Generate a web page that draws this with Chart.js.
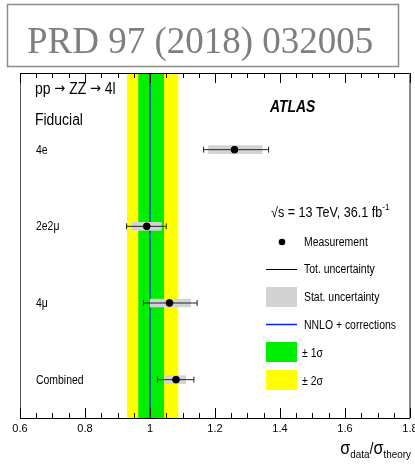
<!DOCTYPE html>
<html>
<head>
<meta charset="utf-8">
<script src="https://cdn.jsdelivr.net/npm/chart.js@4.4.1/dist/chart.umd.min.js"></script>
<style>
  html, body { margin: 0; padding: 0; background: #fff; overflow: hidden; }
  #wrap { position: relative; width: 430px; height: 464px; }
</style>
</head>
<body>
<div id="wrap"><canvas id="ratioChart"></canvas></div>
<script>
// fiducial cross-section ratios, data / theory
var channels = ['4e', '2e2\u03bc', '4\u03bc', 'Combined'];
var channelY = [3.5, 2.5, 1.5, 0.5];
var ratio = [1.26, 0.99, 1.06, 1.08];
var statLo = [1.18, 0.945, 1.0, 1.045];
var statHi = [1.345, 1.035, 1.125, 1.11];
var totLo = [1.165, 0.928, 0.98, 1.023];
var totHi = [1.365, 1.05, 1.145, 1.135];
// theory uncertainty bands around 1
var band1 = [0.964, 1.043];
var band2 = [0.929, 1.087];

var SANS = '"Liberation Sans", Arial, sans-serif';

function narrowText(ctx, s, x, y, font, sx) {
  ctx.save();
  ctx.translate(x, y);
  ctx.scale(sx || 0.87, 1);
  ctx.font = font;
  ctx.fillText(s, 0, 0);
  ctx.restore();
}

// draws a run of [text, font, dy] pieces, returns end x
function textRun(ctx, parts, x, y, sx) {
  parts.forEach(function(p) {
    narrowText(ctx, p[0], x, y + (p[2] || 0), p[1], sx);
    ctx.font = p[1];
    x += ctx.measureText(p[0]).width * sx;
  });
  return x;
}

function runWidth(ctx, parts, sx) {
  var w = 0;
  parts.forEach(function(p) { ctx.font = p[1]; w += ctx.measureText(p[0]).width * sx; });
  return w;
}

var decor = {
  id: 'decor',
  beforeDatasetsDraw: function(chart) {
    var ctx = chart.ctx, a = chart.chartArea, xs = chart.scales.x;
    ctx.save();
    ctx.fillStyle = '#ffff00';
    ctx.fillRect(xs.getPixelForValue(band2[0]), a.top, xs.getPixelForValue(band2[1]) - xs.getPixelForValue(band2[0]), a.bottom - a.top);
    ctx.fillStyle = '#00ee00';
    ctx.fillRect(xs.getPixelForValue(band1[0]), a.top, xs.getPixelForValue(band1[1]) - xs.getPixelForValue(band1[0]), a.bottom - a.top);
    ctx.restore();
  },
  afterDraw: function(chart) {
    var ctx = chart.ctx, a = chart.chartArea, xs = chart.scales.x, ys = chart.scales.y;
    ctx.save();

    // header box
    ctx.strokeStyle = '#8c8c8c';
    ctx.lineWidth = 1.5;
    ctx.strokeRect(7.5, 4.5, 391, 62);
    ctx.fillStyle = '#7f7f7f';
    ctx.font = '37px "Liberation Serif", "Times New Roman", serif';
    ctx.textBaseline = 'alphabetic';
    ctx.fillText('PRD 97 (2018) 032005', 27, 53);

    // frame
    ctx.lineWidth = 1;
    ctx.strokeStyle = '#000';
    ctx.beginPath();
    ctx.moveTo(a.left, a.bottom + 0.5); ctx.lineTo(a.right, a.bottom + 0.5);
    ctx.moveTo(a.left, a.top + 0.5); ctx.lineTo(a.right, a.top + 0.5);
    ctx.stroke();
    ctx.strokeStyle = '#555';
    ctx.beginPath();
    ctx.moveTo(a.left + 0.5, a.top); ctx.lineTo(a.left + 0.5, a.bottom);
    ctx.stroke();
    ctx.strokeStyle = '#8a8a8a';
    ctx.lineWidth = 2;
    ctx.beginPath();
    ctx.moveTo(a.right, a.top); ctx.lineTo(a.right, a.bottom);
    ctx.stroke();

    // inward ticks top and bottom
    ctx.strokeStyle = '#000';
    ctx.lineWidth = 1;
    ctx.beginPath();
    for (var k = 0; k <= 24; k++) {
      var v = 0.6 + k * 0.05;
      var px = Math.round(xs.getPixelForValue(v)) + 0.5;
      var len = (k % 4 === 0) ? 10 : 5;
      ctx.moveTo(px, a.bottom); ctx.lineTo(px, a.bottom - len);
      ctx.moveTo(px, a.top); ctx.lineTo(px, a.top + len);
    }
    ctx.stroke();

    // channel labels
    ctx.fillStyle = '#000';
    for (var i = 0; i < channels.length; i++) {
      narrowText(ctx, channels[i], a.left + 16, ys.getPixelForValue(channelY[i]) + 4, '12px ' + SANS);
    }
    var ARROW = '15px "DejaVu Sans", sans-serif';
    textRun(ctx, [
      ['pp ', '16px ' + SANS], ['\u2192', ARROW, -1], [' ZZ ', '16px ' + SANS],
      ['\u2192', ARROW, -1], [' 4l', '16px ' + SANS]
    ], a.left + 15, 94, 0.87);
    narrowText(ctx, 'Fiducial', a.left + 15, 125, '16px ' + SANS);
    narrowText(ctx, 'ATLAS', 270, 112, 'italic bold 16px ' + SANS);

    // energy and luminosity
    textRun(ctx, [
      ['\u221as = 13 TeV, 36.1 fb', '14px ' + SANS], ['-1', '9px ' + SANS, -7]
    ], 271, 217, 0.9);

    // legend
    ctx.beginPath();
    ctx.arc(282, 242, 3.3, 0, Math.PI * 2);
    ctx.fill();
    narrowText(ctx, 'Measurement', 304, 246, '12px ' + SANS);
    ctx.beginPath();
    ctx.moveTo(266, 269.5); ctx.lineTo(297, 269.5);
    ctx.stroke();
    narrowText(ctx, 'Tot. uncertainty', 304, 273, '12px ' + SANS);
    ctx.fillStyle = '#d3d3d3';
    ctx.fillRect(266, 287, 31, 20);
    ctx.fillStyle = '#000';
    narrowText(ctx, 'Stat. uncertainty', 304, 301, '12px ' + SANS);
    ctx.strokeStyle = '#0022ff';
    ctx.lineWidth = 1.5;
    ctx.beginPath();
    ctx.moveTo(266, 324.5); ctx.lineTo(297, 324.5);
    ctx.stroke();
    narrowText(ctx, 'NNLO + corrections', 304, 329, '12px ' + SANS);
    ctx.fillStyle = '#00ee00';
    ctx.fillRect(266, 342, 31, 20);
    ctx.fillStyle = '#ffff00';
    ctx.fillRect(266, 370, 31, 20);
    ctx.fillStyle = '#000';
    narrowText(ctx, '\u00b1 1\u03c3', 302, 357, '12px ' + SANS);
    narrowText(ctx, '\u00b1 2\u03c3', 302, 385, '12px ' + SANS);

    // axis title: sigma_data / sigma_theory, right aligned
    var parts = [
      ['\u03c3', '18px ' + SANS, 0],
      ['data', '11px ' + SANS, 4],
      ['/', '16px ' + SANS, 0],
      ['\u03c3', '18px ' + SANS, 0],
      ['theory', '11px ' + SANS, 4]
    ];
    textRun(ctx, parts, 411 - runWidth(ctx, parts, 0.9), 454, 0.9);

    ctx.restore();
  }
};

var datasets = [];
// measured ratios
datasets.push({
  type: 'scatter',
  data: channelY.map(function(y, i) { return { x: ratio[i], y: y }; }),
  backgroundColor: '#000',
  borderColor: '#000',
  pointRadius: 3.4,
  order: 1
});
// total uncertainty with end caps
channelY.forEach(function(y, i) {
  datasets.push({
    type: 'line',
    data: [{ x: totLo[i], y: y }, { x: totHi[i], y: y }],
    borderColor: '#222',
    borderWidth: 1,
    pointStyle: 'line',
    rotation: 90,
    pointRadius: 3,
    pointBorderColor: '#222',
    pointBorderWidth: 1,
    order: 2
  });
});
// statistical uncertainty boxes
datasets.push({
  type: 'bar',
  indexAxis: 'y',
  data: channelY.map(function(y, i) { return { y: y, x: [statLo[i], statHi[i]] }; }),
  backgroundColor: '#d3d3d3',
  barThickness: 8,
  order: 3
});
// theory prediction
datasets.push({
  type: 'line',
  data: [{ x: 1, y: 0 }, { x: 1, y: 4.5 }],
  borderColor: '#0a3fe0',
  borderWidth: 1.5,
  pointRadius: 0,
  order: 4
});

new Chart(document.getElementById('ratioChart'), {
  type: 'scatter',
  data: { datasets: datasets },
  options: {
    responsive: true,
    maintainAspectRatio: false,
    animation: false,
    layout: { padding: { left: 20, right: 20, top: 73, bottom: 26 } },
    plugins: { legend: { display: false }, tooltip: { enabled: false } },
    scales: {
      x: {
        type: 'linear',
        min: 0.6,
        max: 1.8,
        offset: false,
        grid: { display: false, drawTicks: false },
        border: { display: false },
        afterFit: function(s) { s.height = 20; },
        ticks: {
          stepSize: 0.2,
          padding: 4,
          color: '#000',
          font: { family: SANS, size: 11 },
          callback: function(v) { return String(+v.toFixed(1)); }
        }
      },
      y: {
        type: 'linear',
        min: 0,
        max: 4.5,
        offset: false,
        display: false
      }
    }
  },
  plugins: [decor]
});
</script>
</body>
</html>
